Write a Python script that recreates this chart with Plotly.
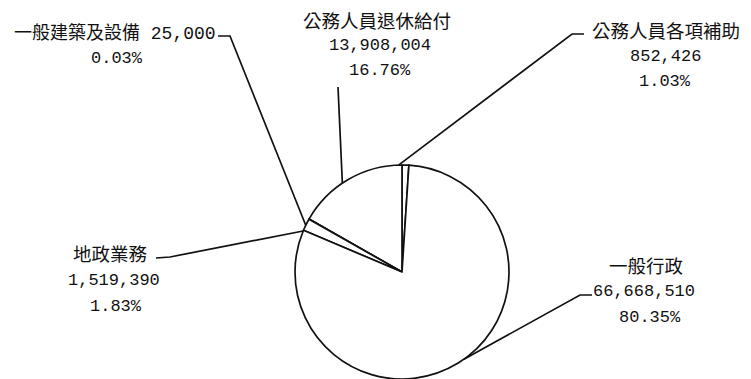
import math
import plotly.graph_objects as go

# ---- data ----
categories = ["公務人員各項補助", "公務人員退休給付", "一般建築及設備", "地政業務", "一般行政"]
values = [852426, 13908004, 25000, 1519390, 66668510]

# ---- layout constants (screen pixels) ----
W, H = 751, 379
OFF = 8  # page body margin that shifts the figure on screen
CX, CY, R = 402, 272, 107
CJK_FONT = "Noto Sans CJK TC"
NUM_FONT = "Liberation Mono, Noto Sans CJK TC"
INK = "#111111"

# label positions: text line centres, and leader elbow path (from pie edge outward)
label_pos = {
    "公務人員各項補助": dict(lines=[(666, 30), (665, 56), (665, 81)], path=[(572, 34), (584, 34)]),
    "公務人員退休給付": dict(lines=[(377, 20), (380, 45), (380, 70)], path=[(338, 87)]),
    "一般建築及設備": dict(lines=[(115, 33), (117, 58)], path=[(230, 36), (218, 36)]),
    "地政業務": dict(lines=[(110, 253), (114, 280), (116, 306)], path=[(170, 257), (156, 258)]),
    "一般行政": dict(lines=[(646, 265), (644, 291), (650, 317)], path=[(580, 295), (592, 295)]),
}

total = sum(values)
pcts = [v / total * 100 for v in values]

fcx, fcy = CX - OFF, CY - OFF
fig = go.Figure()
fig.add_trace(go.Pie(
    labels=categories, values=values, sort=False, direction="counterclockwise", rotation=0,
    textinfo="none", hoverinfo="skip", showlegend=False,
    marker=dict(colors=["white"] * len(values), line=dict(color=INK, width=1.7)),
    domain=dict(x=[(fcx - R) / W, (fcx + R) / W], y=[(H - fcy - R) / H, (H - fcy + R) / H]),
))

annotations = []
cum = 0.0
for cat, v, p in zip(categories, values, pcts):
    mid = (cum + v / 2) / total * 360.0
    cum += v
    ex = CX - R * math.sin(math.radians(mid))
    ey = CY - R * math.cos(math.radians(mid))
    pos = label_pos[cat]
    xs = [ex] + [pt[0] for pt in pos["path"]]
    ys = [ey] + [pt[1] for pt in pos["path"]]
    fig.add_trace(go.Scatter(x=xs, y=ys, mode="lines", line=dict(color=INK, width=1.7),
                             hoverinfo="skip", showlegend=False))
    num = f"{v:,}"
    pct = f"{p:.2f}%"
    if len(pos["lines"]) == 2:
        texts = [(f"{cat} {num}", NUM_FONT, 18), (pct, NUM_FONT, 17)]
    else:
        texts = [(cat, CJK_FONT, 18.5), (num, NUM_FONT, 17), (pct, NUM_FONT, 17)]
    for (tx, ty), (t, fam, sz) in zip(pos["lines"], texts):
        annotations.append(dict(x=tx, y=ty, xref="x", yref="y", text=t, showarrow=False,
                                xanchor="center", yanchor="middle",
                                font=dict(family=fam, size=sz, color=INK)))

fig.update_layout(
    width=W, height=H, margin=dict(l=0, r=0, t=0, b=0),
    paper_bgcolor="white", plot_bgcolor="rgba(0,0,0,0)",
    xaxis=dict(range=[OFF, W + OFF], visible=False, fixedrange=True),
    yaxis=dict(range=[H + OFF, OFF], visible=False, fixedrange=True),
    annotations=annotations, showlegend=False,
)
fig.write_html("out.html")
